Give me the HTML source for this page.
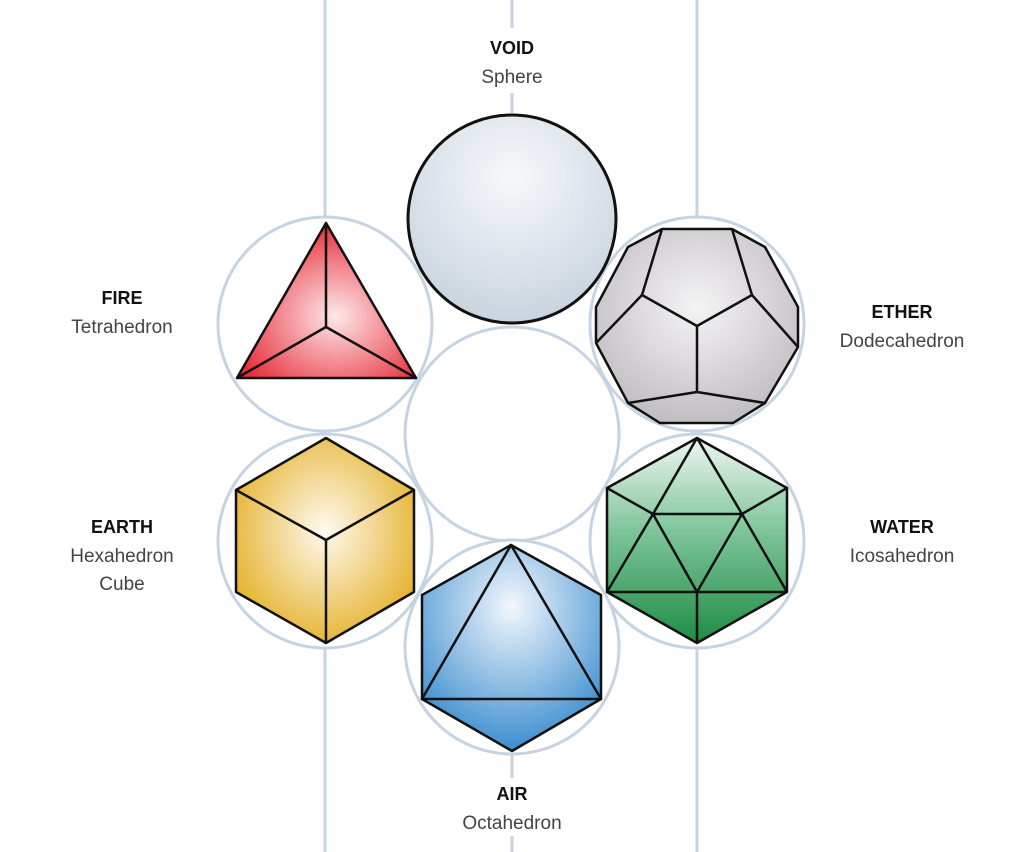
<!DOCTYPE html>
<html><head><meta charset="utf-8"><style>
html,body{margin:0;padding:0;background:#fff;}
svg{display:block;}
.t{font-family:"Liberation Sans",sans-serif;font-size:18px;font-weight:bold;fill:#111;text-anchor:middle;}
.s{font-family:"Liberation Sans",sans-serif;font-size:19px;fill:#444;text-anchor:middle;}
</style></head><body>
<svg width="1024" height="852" viewBox="0 0 1024 852" xmlns="http://www.w3.org/2000/svg">
<defs>
<radialGradient id="gs" cx="0.5" cy="0.3" r="0.7"><stop offset="0" stop-color="#f7f9fb"/><stop offset="1" stop-color="#c9d3de"/></radialGradient>
<radialGradient id="gr" cx="0.55" cy="0.6" r="0.6"><stop offset="0" stop-color="#fde8ea"/><stop offset="1" stop-color="#e8303c"/></radialGradient>
<radialGradient id="gd" cx="0.5" cy="0.4" r="0.7"><stop offset="0" stop-color="#f5f4f5"/><stop offset="1" stop-color="#b9b6ba"/></radialGradient>
<radialGradient id="gy" cx="0.5" cy="0.45" r="0.65"><stop offset="0" stop-color="#fffaf0"/><stop offset="1" stop-color="#e2a915"/></radialGradient>
<linearGradient id="gg" x1="0" y1="0" x2="0" y2="1"><stop offset="0" stop-color="#eef6f1"/><stop offset="0.45" stop-color="#7fc59a"/><stop offset="1" stop-color="#1e8c45"/></linearGradient>
<radialGradient id="gb" cx="0.5" cy="0.3" r="0.75"><stop offset="0" stop-color="#f3f7fc"/><stop offset="1" stop-color="#2f86cc"/></radialGradient>
</defs>
<g stroke="#c6d4e1" stroke-width="3" fill="none">
<line x1="325" y1="0" x2="325" y2="218"/><line x1="325" y1="648" x2="325" y2="852"/>
<line x1="697" y1="0" x2="697" y2="218"/><line x1="697" y1="648" x2="697" y2="852"/>
<line x1="512" y1="0" x2="512" y2="28"/><line x1="512" y1="93" x2="512" y2="113"/>
<line x1="512" y1="753" x2="512" y2="778"/><line x1="512" y1="836" x2="512" y2="852"/>
<circle cx="512" cy="434" r="107" fill="#fff"/>
<circle cx="325" cy="324" r="107" fill="#fff"/>
<circle cx="697" cy="324" r="107" fill="#fff"/>
<circle cx="325" cy="541" r="107" fill="#fff"/>
<circle cx="697" cy="541" r="107" fill="#fff"/>
<circle cx="512" cy="647" r="107" fill="#fff"/>
</g>
<circle cx="512" cy="219" r="104" fill="url(#gs)" stroke="#111" stroke-width="3"/>
<g stroke="#111" stroke-width="2.5" stroke-linejoin="round" fill="none">
<polygon points="326,223 237,378 416,378" fill="url(#gr)"/>
<path d="M326,223 L326,327 M237,378 L326,327 L416,378"/>
<polygon points="662,229 732,229 765,247 798,307 798,347 765,403 733,423 660,423 628,403 596,343 596,307 628,247" fill="url(#gd)"/>
<path d="M662,229 L642,295 L697,326 L752,295 L732,229 M697,326 L697,392 M596,343 L642,295 M798,347 L752,295 M628,403 L697,392 L765,403"/>
<polygon points="326,438 414,490 414,592 326,643 236,592 236,490" fill="url(#gy)"/>
<path d="M236,490 L326,540 L414,490 M326,540 L326,643"/>
<polygon points="697,438 787,488 787,592 697,643 607,592 607,488" fill="url(#gg)"/>
<path d="M697,438 L653,514 L742,514 Z M607,488 L653,514 M787,488 L742,514 M653,514 L607,592 M653,514 L697,592 L742,514 M742,514 L787,592 M607,592 L787,592 M697,592 L697,643"/>
<polygon points="511,545 601,595 601,699 512,751 422,699 422,595" fill="url(#gb)"/>
<path d="M511,545 L422,699 L601,699 Z"/>
</g>
<text class="t" x="512" y="54">VOID</text><text class="s" x="512" y="83">Sphere</text>
<text class="t" x="122" y="304">FIRE</text><text class="s" x="122" y="333">Tetrahedron</text>
<text class="t" x="902" y="318">ETHER</text><text class="s" x="902" y="347">Dodecahedron</text>
<text class="t" x="122" y="533">EARTH</text><text class="s" x="122" y="562">Hexahedron</text><text class="s" x="122" y="590">Cube</text>
<text class="t" x="902" y="533">WATER</text><text class="s" x="902" y="562">Icosahedron</text>
<text class="t" x="512" y="800">AIR</text><text class="s" x="512" y="829">Octahedron</text>
</svg>
</body></html>
